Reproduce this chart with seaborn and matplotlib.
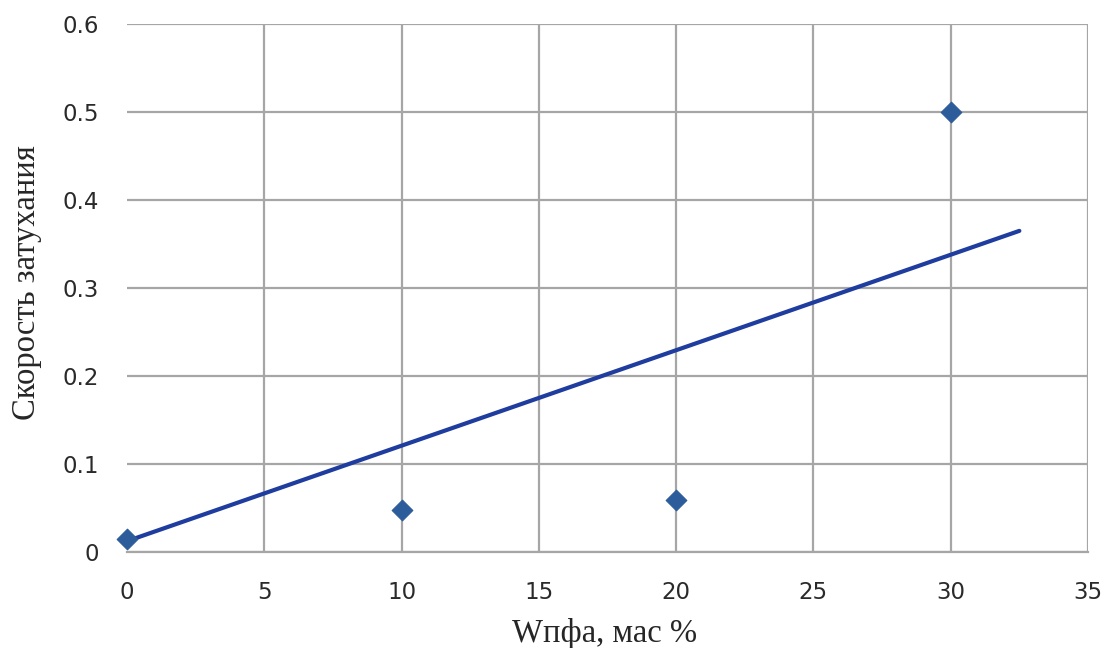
import matplotlib
matplotlib.use("Agg")
import matplotlib.pyplot as plt
import seaborn as sns
import pandas as pd

# measured points
w_pfa = [0, 10, 20, 30]
rate = [0.015, 0.048, 0.059, 0.5]

# linear trend line (as drawn in the source chart, ends at 32.5)
trend_x = [0, 32.5]
trend_y = [0.012, 0.365]

x_ticks = [0, 5, 10, 15, 20, 25, 30, 35]
y_ticks = [0, 0.1, 0.2, 0.3, 0.4, 0.5, 0.6]
y_labels = ["0", "0.1", "0.2", "0.3", "0.4", "0.5", "0.6"]

df = pd.DataFrame({"x": w_pfa, "y": rate})
trend = pd.DataFrame({"x": trend_x, "y": trend_y})

sns.set_style("white")
plt.rcParams["font.family"] = ["DejaVu Sans"]

fig = plt.figure(figsize=(11.01, 6.48), dpi=100)
fig.patch.set_facecolor("white")

ax = fig.add_axes([127 / 1101, 1 - 551.7 / 648, (1088 - 127) / 1101, (551.7 - 24.3) / 648])
ax.patch.set_alpha(0)

sns.lineplot(data=trend, x="x", y="y", ax=ax, color="#1f3d9e", linewidth=3, zorder=3)
sns.scatterplot(data=df, x="x", y="y", ax=ax, marker="D", s=110, color="#2d5c9b",
                edgecolor="#2d5c9b", zorder=4, clip_on=False)

ax.set_xlim(0, 35)
ax.set_ylim(0, 0.6)
ax.set_xticks(x_ticks)
ax.set_yticks(y_ticks)
ax.set_yticklabels(y_labels)
ax.set_axisbelow(False)
ax.grid(True, color="#a6a6a6", linewidth=1.6)
ax.xaxis.get_gridlines()[0].set_visible(False)  # no vertical line at x=0

for s in ["top", "right", "left"]:
    ax.spines[s].set_visible(False)
ax.spines["bottom"].set_color("#a6a6a6")
ax.spines["bottom"].set_linewidth(1.6)
ax.spines["bottom"].set_zorder(2.5)

ax.tick_params(axis="x", length=6, width=1.6, color="#a6a6a6", pad=15, labelsize=16.5, labelcolor="#2a2a2a")
ax.tick_params(axis="y", length=0, pad=20, labelsize=16.5, labelcolor="#2a2a2a")

ax.set_xlabel("Wпфа, мас %", family=["Liberation Serif", "DejaVu Serif"], fontsize=23.5)
ax.set_ylabel("Скорость затухания", family=["Liberation Serif", "DejaVu Serif"], fontsize=23.5)
ax.xaxis.set_label_coords(0.497, -0.126)
ax.yaxis.set_label_coords(-0.088, 0.51)

fig.savefig("out.png", dpi=100)
